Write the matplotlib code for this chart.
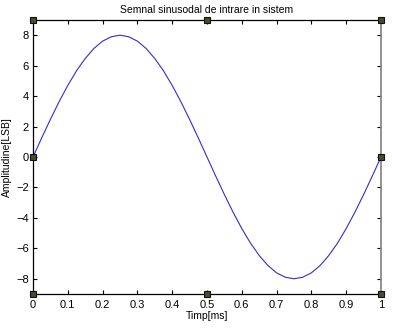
import matplotlib
matplotlib.use('Agg')
import matplotlib.pyplot as plt

# samples (time in ms, amplitude in LSB)
t_ms = [0.0, 0.025, 0.05, 0.075, 0.1, 0.125, 0.15, 0.175, 0.2, 0.225,
        0.25, 0.275, 0.3, 0.325, 0.35, 0.375, 0.4, 0.425, 0.45, 0.475,
        0.5, 0.525, 0.55, 0.575, 0.6, 0.625, 0.65, 0.675, 0.7, 0.725,
        0.75, 0.775, 0.8, 0.825, 0.85, 0.875, 0.9, 0.925, 0.95, 0.975, 1.0]
amp_lsb = [0.0, 1.25, 2.47, 3.63, 4.70, 5.66, 6.47, 7.13, 7.61, 7.90,
           8.0, 7.90, 7.61, 7.13, 6.47, 5.66, 4.70, 3.63, 2.47, 1.25,
           0.0, -1.25, -2.47, -3.63, -4.70, -5.66, -6.47, -7.13, -7.61, -7.90,
           -8.0, -7.90, -7.61, -7.13, -6.47, -5.66, -4.70, -3.63, -2.47, -1.25, 0.0]
x_ticks = [0, 0.1, 0.2, 0.3, 0.4, 0.5, 0.6, 0.7, 0.8, 0.9, 1]
x_tick_labels = ['0', '0.1', '0.2', '0.3', '0.4', '0.5', '0.6', '0.7', '0.8', '0.9', '1']
y_ticks = [-8, -6, -4, -2, 0, 2, 4, 6, 8]

plt.rcParams['font.family'] = ['Liberation Sans', 'DejaVu Sans']

fig = plt.figure(figsize=(3.97, 3.31), dpi=100)
ax = fig.add_axes([0.0831, 0.1118, 0.8766, 0.8278])

ax.plot(t_ms, amp_lsb, color='#3030c8', lw=0.8)

ax.set_xlim(0, 1)
ax.set_ylim(-9, 9)
ax.set_xticks(x_ticks)
ax.set_xticklabels(x_tick_labels)
ax.set_yticks(y_ticks)
ax.tick_params(direction='in', length=3, width=0.8, labelsize=8,
               top=True, right=True)
ax.tick_params(axis='x', pad=4)
ax.tick_params(axis='y', pad=3)

for s in ['left', 'bottom', 'top']:
    ax.spines[s].set_linewidth(0.9)
ax.spines['right'].set_color('#808080')
ax.spines['right'].set_linewidth(1.2)

ax.set_title('Semnal sinusodal de intrare in sistem', fontsize=7.5, pad=5)
ax.set_xlabel('Timp[ms]', fontsize=7.5, labelpad=1)
ax.set_ylabel('Amplitudine[LSB]', fontsize=7.5, labelpad=3)

# selection handles at corners and mid-edges
hx = [0, 0.5, 1, 0, 1, 0, 0.5, 1]
hy = [0, 0, 0, 0.5, 0.5, 1, 1, 1]
ax.plot(hx, hy, 's', ms=4.5, mfc='#4a4a30', mec='#111111', mew=0.8,
        transform=ax.transAxes, clip_on=False, zorder=5)

fig.savefig('out.png', dpi=100)
